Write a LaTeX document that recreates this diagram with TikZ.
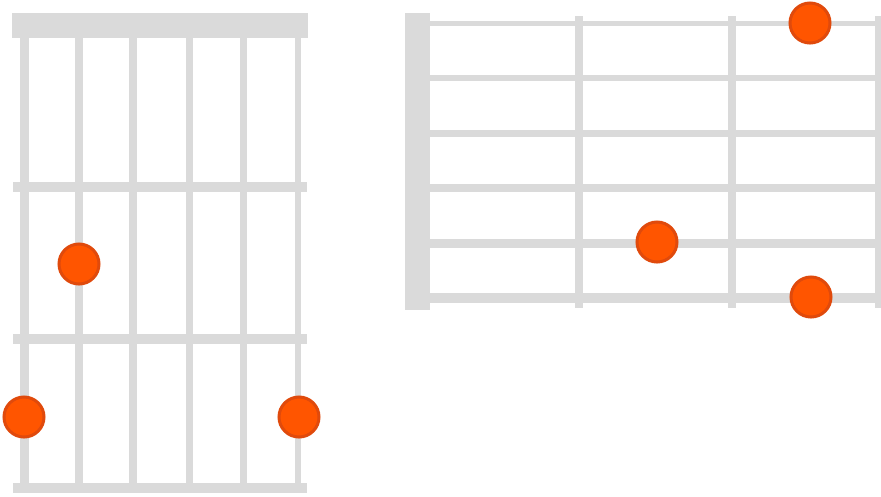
\documentclass[tikz,border=0pt]{standalone}
\usetikzlibrary{positioning}
\definecolor{grid}{RGB}{218,218,218}
\definecolor{dot}{RGB}{255,85,0}
\definecolor{dotrim}{RGB}{224,74,12}

\begin{document}
\begin{tikzpicture}[x=0.01cm, y=-0.01cm,
    fingerdot/.style={circle, fill=dot, draw=dotrim, line width=0.03cm, minimum size=0.4cm, inner sep=0pt}]
\useasboundingbox (0,0) rectangle (881,496);

% --- vertical chord chart ---
\fill[grid] (12,13) rectangle (308,38);
\foreach \y in {187,339,488} {
    \draw[grid, line width=0.1cm] (13,\y) -- (307,\y);
}
\foreach \x/\w in {24/9,79/8,133/8,189/7,243/7,298/6} {
    \draw[grid, line width=\w*0.01cm] (\x,38) -- (\x,488);
}
\node[fingerdot] (va) at (79,264) {};
\node[fingerdot] (vb) at (24,417) {};
\node[fingerdot] (vc) at (299,417) {};

% --- horizontal neck ---
\fill[grid] (405,13) rectangle (430,310);
\foreach \y/\w in {23/5,78/6,133/7,188/8,243/9,298/10} {
    \draw[grid, line width=\w*0.01cm] (430,\y) -- (881,\y);
}
\foreach \x in {579,732,879} {
    \draw[grid, line width=0.08cm] (\x,16) -- (\x,308);
}
\node[fingerdot] (ha) at (810,23) {};
\node[fingerdot] (hb) at (657,242) {};
\node[fingerdot] (hc) at (811,297) {};
\end{tikzpicture}
\end{document}
